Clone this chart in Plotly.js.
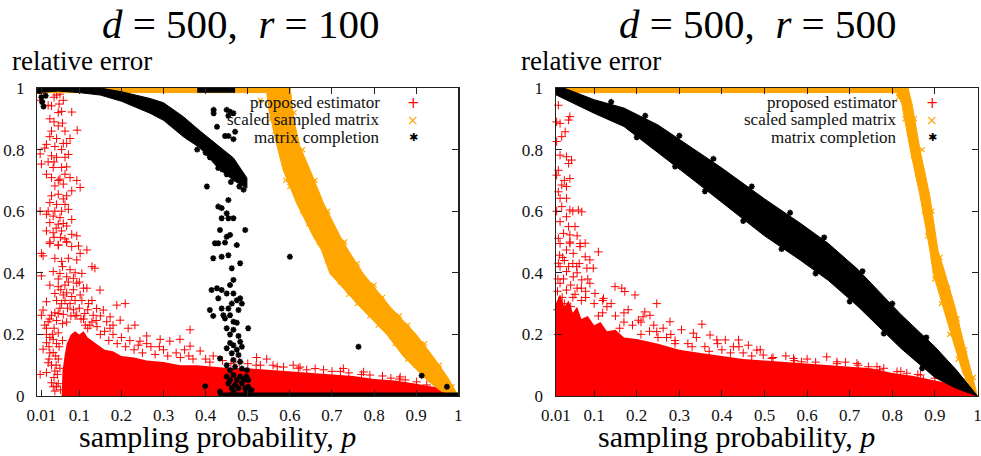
<!DOCTYPE html>
<html>
<head>
<meta charset="utf-8">
<script src="https://cdn.plot.ly/plotly-3.0.1.min.js"></script>
<style>html,body{margin:0;padding:0;background:#fff;}#chart{width:981px;height:456px;}</style>
</head>
<body>
<div id="chart"></div>
<script>
// ---------- shared axis ticks ----------
const X_TICKS = [0.01, 0.1, 0.2, 0.3, 0.4, 0.5, 0.6, 0.7, 0.8, 0.9, 1];
const X_TICK_LABELS = ['0.01', '0.1', '0.2', '0.3', '0.4', '0.5', '0.6', '0.7', '0.8', '0.9', '1'];
const Y_TICKS = [0, 0.2, 0.4, 0.6, 0.8, 1];
const Y_TICK_LABELS = ['0', '0.2', '0.4', '0.6', '0.8', '1'];
const SERIES_NAMES = ['proposed estimator', 'scaled sampled matrix', 'matrix completion'];
const PANEL_TITLES = ['<i>d</i>\u00A0=\u00A0500,\u00A0\u00A0<i>r</i>\u00A0=\u00A0100', '<i>d</i>\u00A0=\u00A0500,\u00A0\u00A0<i>r</i>\u00A0=\u00A0500'];

// ================= LEFT PANEL: d = 500, r = 100 =================
const L_pe_core_p = [0.058, 0.06, 0.065, 0.07, 0.08, 0.09, 0.10, 0.11, 0.12, 0.14, 0.16, 0.18, 0.20, 0.23, 0.26, 0.30, 0.34, 0.38, 0.42, 0.46, 0.50, 0.55, 0.60, 0.65, 0.70, 0.75, 0.80, 0.85, 0.90, 0.94, 0.97, 0.99, 1.0];
const L_pe_core_v = [0.0, 0.08, 0.13, 0.17, 0.2, 0.21, 0.2, 0.21, 0.19, 0.17, 0.15, 0.145, 0.13, 0.125, 0.115, 0.11, 0.1, 0.1, 0.095, 0.09, 0.09, 0.085, 0.08, 0.075, 0.07, 0.065, 0.055, 0.05, 0.04, 0.03, 0.02, 0.01, 0.0];
const L_pe_pts = [
 [0.01,0.983],[0.046,0.977],[0.054,0.98],[0.007,0.96],[0.026,0.944],[0.034,0.942],[0.052,0.948],[0.058,0.924],[0.082,0.922],[0.03,0.9],
 [0.04,0.89],[0.05,0.877],[0.06,0.886],[0.078,0.836],[0.095,0.863],[0.03,0.842],[0.046,0.836],[0.022,0.817],[0.018,0.805],[0.042,0.81],
 [0.062,0.82],[0.007,0.786],[0.01,0.753],[0.034,0.78],[0.046,0.775],[0.066,0.775],[0.074,0.784],[0.038,0.742],[0.058,0.742],[0.07,0.744],
 [0.022,0.72],[0.034,0.709],[0.054,0.704],[0.078,0.709],[0.094,0.7],[0.102,0.677],[0.042,0.682],[0.062,0.688],[0.034,0.65],[0.05,0.655],
 [0.07,0.65],[0.082,0.666],[0.03,0.628],[0.046,0.622],[0.066,0.622],[0.074,0.606],[0.007,0.6],[0.022,0.59],[0.038,0.584],[0.054,0.579],
 [0.082,0.573],[0.03,0.563],[0.05,0.558],[0.07,0.552],[0.022,0.536],[0.038,0.53],[0.058,0.536],[0.082,0.525],[0.094,0.52],[0.03,0.5],
 [0.05,0.49],[0.07,0.5],[0.098,0.487],
 [0.042,0.6],[0.058,0.6],[0.062,0.56],[0.045,0.545],[0.066,0.51],[0.04,0.515],[0.055,0.515],[0.026,0.6],[0.062,0.64],[0.05,0.7],
 [0.066,0.72],[0.04,0.76],[0.026,0.76],[0.058,0.8],[0.07,0.82],[0.034,0.86],[0.066,0.86],[0.05,0.92],[0.04,0.97],[0.062,0.96],
 [0.03,0.495],[0.05,0.49],[0.07,0.5],[0.082,0.485],[0.102,0.463],[0.118,0.474],[0.014,0.455],[0.01,0.463],[0.042,0.447],[0.058,0.437],
 [0.074,0.447],[0.094,0.442],[0.13,0.42],[0.137,0.415],[0.038,0.404],[0.054,0.398],[0.07,0.387],[0.086,0.382],[0.106,0.398],[0.01,0.39],
 [0.03,0.36],[0.05,0.355],[0.066,0.36],[0.094,0.366],[0.118,0.35],[0.042,0.333],[0.062,0.328],[0.082,0.323],[0.102,0.328],[0.149,0.344],
 [0.022,0.306],[0.058,0.3],[0.078,0.3],[0.122,0.3],[0.141,0.284],[0.157,0.279],[0.209,0.3],[0.189,0.295],[0.014,0.279],[0.034,0.262],
 [0.05,0.268],[0.094,0.262],[0.113,0.268],[0.133,0.262],[0.01,0.262],[0.173,0.257],[0.026,0.241],[0.165,0.241],[0.197,0.246],[0.232,0.23],
 [0.022,0.22],[0.125,0.23],[0.173,0.22],[0.216,0.22],[0.363,0.215],[0.022,0.2],[0.038,0.184],[0.26,0.195],[0.244,0.178],[0.292,0.184],
 [0.315,0.178],[0.339,0.184],[0.363,0.162],[0.022,0.173],[0.014,0.152],[0.038,0.141],[0.026,0.108],[0.042,0.081],[0.022,0.076],[0.007,0.07],
 [0.042,0.016],[0.046,0.032],[0.034,0.043],[0.387,0.146],[0.418,0.13],[0.521,0.125],[0.545,0.12],[0.56,0.1],[0.585,0.094],[0.608,0.1],
 [0.624,0.094],[0.66,0.089],[0.727,0.089],[0.775,0.078],[0.79,0.068],[0.862,0.062],[0.874,0.052],[0.901,0.046],[0.925,0.036],
 [0.06,0.42],[0.078,0.41],[0.09,0.4],[0.05,0.38],[0.074,0.37],[0.1,0.37],[0.11,0.35],[0.056,0.345],[0.086,0.345],[0.07,0.335],
 [0.046,0.31],[0.066,0.31],[0.09,0.31],[0.106,0.31],[0.13,0.31],[0.054,0.285],[0.072,0.285],[0.086,0.28],[0.1,0.285],[0.12,0.28],
 [0.042,0.27],[0.062,0.265],[0.08,0.26],[0.104,0.25],[0.14,0.245],[0.15,0.26],[0.046,0.245],[0.06,0.235],[0.114,0.23],[0.142,0.225],
 [0.16,0.21],[0.18,0.2],[0.2,0.19],[0.04,0.22],[0.05,0.205],[0.03,0.19],[0.046,0.17],[0.03,0.14],[0.05,0.12],[0.034,0.1],
 [0.04,0.06],[0.05,0.04],[0.054,0.09],[0.22,0.18],[0.24,0.165],[0.27,0.16],[0.3,0.15],[0.33,0.14],[0.36,0.13],[0.4,0.12],
 [0.44,0.115],[0.48,0.11],[0.5,0.105],[0.52,0.1],[0.64,0.085],[0.7,0.08],[0.74,0.075],[0.82,0.065],[0.84,0.058],[0.95,0.028],
 [0.12,0.22],[0.15,0.2],[0.17,0.18],[0.19,0.17],[0.21,0.16],[0.23,0.15],[0.25,0.14],[0.28,0.135],[0.31,0.13],[0.34,0.125],
 [0.37,0.12],[0.41,0.11],[0.46,0.105],[0.53,0.1],[0.57,0.095],[0.62,0.09],[0.68,0.085],[0.72,0.08],[0.77,0.07],[0.86,0.055],
 [0.11,0.25],[0.13,0.24],[0.18,0.23],[0.26,0.17],[0.29,0.16],[0.35,0.15],[0.06,0.18],[0.07,0.24],[0.09,0.26],[0.03,0.25],
 [0.036,0.2],[0.028,0.12],[0.044,0.13],[0.038,0.03],[0.048,0.07],[0.055,0.02],[0.045,0.1],[0.052,0.16],[0.028,0.16],[0.018,0.23]
];
const L_ss_hi_p = [0.0, 0.600, 0.605, 0.612, 0.624, 0.648, 0.68, 0.72, 0.74, 0.774, 0.838, 0.90, 0.94, 0.975, 1.0];
const L_ss_hi_v = [1.01, 1.01, 0.95, 0.88, 0.81, 0.734, 0.626, 0.517, 0.47, 0.398, 0.29, 0.2, 0.128, 0.06, 0.0];
const L_ss_lo_p = [0.0, 0.545, 0.55, 0.57, 0.584, 0.616, 0.656, 0.675, 0.695, 0.766, 0.83, 0.87, 0.925, 0.96, 1.0];
const L_ss_lo_v = [0.985, 0.985, 0.93, 0.81, 0.734, 0.626, 0.517, 0.474, 0.398, 0.29, 0.2, 0.128, 0.052, 0.015, 0.0];
const L_ss_pts = [
 [0.53,0.96],[0.555,0.9],[0.565,0.86],[0.59,0.7],[0.6,0.68],[0.63,0.6],[0.645,0.56],[0.67,0.5],[0.69,0.44],[0.72,0.37],
 [0.74,0.33],[0.76,0.3],[0.79,0.26],[0.81,0.23],[0.85,0.17],[0.88,0.12],[0.9,0.1],[0.93,0.06],[0.95,0.04],
 [0.61,0.92],[0.63,0.8],[0.66,0.7],[0.69,0.6],[0.73,0.5],[0.76,0.43],[0.8,0.36],[0.82,0.32],[0.86,0.26],[0.88,0.23],
 [0.92,0.17],[0.955,0.1],[0.985,0.03]
];
const L_mc_arc_p = [0.0, 0.05, 0.10, 0.15, 0.20, 0.268, 0.30, 0.347, 0.387, 0.427, 0.466, 0.498];
const L_mc_arc_hi = [1.01, 1.01, 1.005, 1.0, 0.988, 0.966, 0.952, 0.907, 0.86, 0.815, 0.773, 0.708];
const L_mc_arc_lo = [0.985, 0.99, 0.985, 0.977, 0.957, 0.918, 0.895, 0.842, 0.805, 0.744, 0.70, 0.675];
const L_mc_cap_p = [0.38, 0.47];
const L_mc_floor_p = [0.43, 1.0];
const L_mc_pts = [
 [0.419,0.929],[0.419,0.918],[0.45,0.929],[0.458,0.923],[0.454,0.91],[0.466,0.918],[0.427,0.874],[0.446,0.844],[0.454,0.844],[0.47,0.858],
 [0.466,0.834],[0.403,0.68],[0.43,0.615],[0.438,0.61],[0.454,0.636],[0.45,0.593],[0.438,0.577],[0.454,0.577],[0.466,0.577],[0.434,0.539],
 [0.494,0.539],[0.458,0.523],[0.45,0.517],[0.422,0.496],[0.43,0.496],[0.474,0.49],[0.446,0.498],[0.418,0.447],[0.438,0.452],[0.454,0.457],
 [0.462,0.415],[0.482,0.431],[0.466,0.377],[0.414,0.344],[0.427,0.35],[0.438,0.344],[0.45,0.333],[0.458,0.36],[0.466,0.333],[0.43,0.317],
 [0.474,0.311],[0.482,0.317],[0.462,0.3],[0.486,0.3],[0.41,0.279],[0.438,0.284],[0.454,0.284],[0.478,0.279],[0.418,0.26],[0.442,0.262],
 [0.446,0.252],[0.458,0.262],[0.466,0.241],[0.474,0.238],[0.501,0.22],[0.45,0.22],[0.466,0.215],[0.458,0.2],[0.478,0.195],[0.482,0.176],
 [0.458,0.172],[0.466,0.165],[0.486,0.16],[0.45,0.155],[0.474,0.15],[0.434,0.122],[0.462,0.139],[0.478,0.133],[0.466,0.117],[0.482,0.111],
 [0.45,0.1],[0.47,0.095],[0.486,0.089],[0.458,0.084],[0.498,0.084],[0.45,0.063],[0.466,0.068],[0.482,0.063],[0.497,0.063],[0.458,0.052],
 [0.474,0.052],[0.49,0.052],[0.501,0.052],[0.454,0.041],[0.47,0.036],[0.486,0.041],[0.501,0.03],[0.462,0.025],[0.478,0.025],[0.494,0.025],
 [0.509,0.019],[0.434,0.014],[0.466,0.014],[0.497,0.014],[0.399,0.032],[0.6,0.452],[0.763,0.16],[0.913,0.066],[0.973,0.03],
 [0.005,0.99],[0.01,0.97],[0.012,0.955],[0.015,0.94],[0.02,0.975],[0.36,0.84],[0.38,0.8],[0.4,0.79],[0.41,0.775],[0.43,0.74],
 [0.44,0.735],[0.45,0.72],[0.46,0.695],[0.48,0.68],[0.49,0.67]
];

// ================= RIGHT PANEL: d = 500, r = 500 =================
const R_pe_core_p = [0.01, 0.02, 0.03, 0.04, 0.05, 0.06, 0.07, 0.085, 0.10, 0.115, 0.13, 0.15, 0.17, 0.20, 0.25, 0.30, 0.35, 0.40, 0.45, 0.50, 0.55, 0.60, 0.65, 0.70, 0.75, 0.80, 0.85, 0.90, 0.94, 0.97, 0.99, 1.0];
const R_pe_core_v = [0.3, 0.33, 0.29, 0.31, 0.27, 0.29, 0.25, 0.26, 0.23, 0.24, 0.21, 0.215, 0.19, 0.185, 0.17, 0.15, 0.14, 0.13, 0.12, 0.115, 0.11, 0.105, 0.1, 0.095, 0.09, 0.075, 0.065, 0.05, 0.04, 0.025, 0.01, 0.0];
const R_pe_pts = [
 [0.016,0.944],[0.012,0.89],[0.02,0.885],[0.043,0.907],[0.04,0.896],[0.032,0.858],[0.024,0.842],[0.012,0.826],[0.02,0.782],[0.035,0.777],
 [0.047,0.766],[0.04,0.755],[0.016,0.733],[0.012,0.717],[0.043,0.706],[0.024,0.685],[0.035,0.68],[0.016,0.663],[0.02,0.642],[0.035,0.642],
 [0.024,0.615],[0.063,0.604],[0.071,0.598],[0.043,0.604],[0.035,0.582],[0.02,0.566],[0.04,0.55],[0.055,0.55],[0.028,0.528],[0.043,0.523],
 [0.016,0.512],[0.079,0.496],[0.067,0.485],[0.043,0.496],
 [0.02,0.495],[0.043,0.5],[0.035,0.474],[0.019,0.457],[0.016,0.431],[0.051,0.463],[0.067,0.495],[0.079,0.452],[0.09,0.442],[0.11,0.468],
 [0.098,0.415],[0.083,0.415],[0.059,0.42],[0.035,0.404],[0.051,0.387],[0.071,0.377],[0.02,0.366],[0.035,0.344],[0.09,0.366],[0.149,0.355],
 [0.165,0.35],[0.172,0.339],[0.196,0.328],[0.102,0.333],[0.122,0.317],[0.247,0.3],[0.219,0.273],[0.204,0.246],[0.215,0.257],[0.231,0.262],
 [0.278,0.241],[0.262,0.22],[0.247,0.209],[0.305,0.215],[0.353,0.233],[0.333,0.204],[0.372,0.198],[0.388,0.182],[0.408,0.182],[0.439,0.182],
 [0.462,0.165],[0.427,0.16],[0.482,0.149],[0.497,0.133],[0.517,0.122],[0.568,0.122],[0.587,0.111],[0.646,0.127],[0.67,0.111],[0.717,0.106],
 [0.744,0.095],[0.764,0.095],[0.811,0.079],[0.834,0.074],[0.866,0.068],[0.873,0.052],
 [0.03,0.44],[0.05,0.43],[0.06,0.4],[0.028,0.38],[0.045,0.36],[0.06,0.35],[0.08,0.34],[0.014,0.34],[0.025,0.32],[0.05,0.32],
 [0.07,0.31],[0.1,0.3],[0.13,0.29],[0.12,0.27],[0.15,0.26],[0.17,0.24],[0.19,0.23],[0.14,0.3],[0.18,0.28],[0.23,0.21],
 [0.27,0.19],[0.29,0.18],[0.32,0.17],[0.36,0.16],[0.4,0.15],[0.45,0.14],[0.55,0.13],[0.6,0.12],[0.69,0.11],[0.78,0.09],
 [0.014,0.28],[0.015,0.2],[0.012,0.6],[0.03,0.7],[0.05,0.6],[0.06,0.52],
 [0.11,0.26],[0.16,0.22],[0.21,0.2],[0.25,0.19],[0.29,0.17],[0.33,0.16],[0.37,0.145],[0.42,0.14],[0.47,0.13],[0.52,0.125],
 [0.57,0.115],[0.62,0.11],[0.67,0.105],[0.72,0.1],[0.77,0.085],[0.82,0.08],[0.86,0.07],[0.9,0.058],[0.93,0.047],[0.96,0.033],
 [0.08,0.32],[0.12,0.31],[0.17,0.27],[0.21,0.24],[0.24,0.23],[0.28,0.2],[0.34,0.19],[0.39,0.17],[0.44,0.16],[0.49,0.15],
 [0.015,0.38],[0.02,0.42],[0.026,0.45],[0.04,0.42],[0.065,0.43],[0.085,0.38],[0.07,0.35],[0.055,0.33],[0.03,0.3],[0.045,0.29]
];
const R_ss_hi_p = [0.01, 0.835, 0.846, 0.865, 0.888, 0.907, 0.924, 0.947, 0.966, 0.987, 1.0];
const R_ss_hi_v = [1.01, 1.01, 0.95, 0.8, 0.65, 0.474, 0.398, 0.29, 0.182, 0.074, 0.0];
const R_ss_lo_p = [0.01, 0.81, 0.822, 0.842, 0.865, 0.888, 0.896, 0.919, 0.942, 0.966, 0.99, 1.0];
const R_ss_lo_v = [0.985, 0.985, 0.95, 0.8, 0.65, 0.474, 0.398, 0.29, 0.182, 0.074, 0.01, 0.0];
const R_ss_pts = [
 [0.815,0.97],[0.83,0.9],[0.85,0.78],[0.86,0.72],[0.875,0.6],[0.883,0.52],[0.9,0.38],[0.915,0.3],[0.935,0.2],[0.955,0.12],
 [0.975,0.05],[0.852,0.9],[0.87,0.8],[0.893,0.6],[0.912,0.45],[0.93,0.35],[0.952,0.25],[0.97,0.15],[0.99,0.06]
];
const R_mc_band_p = [0.01, 0.1, 0.17, 0.25, 0.325, 0.4, 0.5, 0.585, 0.65, 0.72, 0.82, 0.9, 0.95, 1.0];
const R_mc_band_hi = [1.01, 0.962, 0.935, 0.88, 0.81, 0.74, 0.64, 0.56, 0.495, 0.41, 0.265, 0.16, 0.085, 0.003];
const R_mc_band_lo = [0.978, 0.918, 0.875, 0.79, 0.71, 0.63, 0.52, 0.44, 0.375, 0.29, 0.155, 0.06, 0.025, 0.0];
const R_mc_pts = [
 [0.14,0.955],[0.22,0.91],[0.3,0.845],[0.38,0.77],[0.47,0.68],[0.56,0.595],[0.64,0.515],[0.73,0.405],[0.8,0.3],[0.88,0.19],
 [0.2,0.84],[0.29,0.745],[0.36,0.665],[0.45,0.568],[0.54,0.477],[0.62,0.398],[0.7,0.307],[0.78,0.203],[0.87,0.09]
];

// ---------- styling ----------
const RED = '#ff0000', ORANGE = '#ffa500', BLACK = '#000000';
const SERIF = '"Liberation Serif", serif';

function poly(hp, hv, lp, lv) {
  return { x: hp.concat(lp.slice().reverse()), y: hv.concat(lv.slice().reverse()) };
}
function bandPoly(p, hi, lo) {
  return { x: p.concat(p.slice().reverse()), y: hi.concat(lo.slice().reverse()) };
}

function panelTraces(ax, ay, d) {
  const t = [];
  t.push({ x: d.coreP, y: d.coreV, xaxis: ax, yaxis: ay, type: 'scatter', mode: 'lines', fill: 'tozeroy', fillcolor: RED, line: { width: 0, color: RED }, hoverinfo: 'skip' });
  t.push({ x: d.pe.map(q => q[0]), y: d.pe.map(q => q[1]), xaxis: ax, yaxis: ay, type: 'scatter', mode: 'markers', cliponaxis: false,
    marker: { symbol: 'cross-thin-open', size: 6, line: { width: 1, color: RED }, color: RED } });
  const sp = poly(d.ssHiP, d.ssHiV, d.ssLoP, d.ssLoV);
  t.push({ x: sp.x, y: sp.y, xaxis: ax, yaxis: ay, type: 'scatter', mode: 'lines', fill: 'toself', fillcolor: ORANGE, line: { width: 1, color: ORANGE }, hoverinfo: 'skip' });
  t.push({ x: d.ss.map(q => q[0]), y: d.ss.map(q => q[1]), xaxis: ax, yaxis: ay, type: 'scatter', mode: 'markers', cliponaxis: false,
    marker: { symbol: 'x-thin-open', size: 5, line: { width: 1.2, color: ORANGE }, color: ORANGE } });
  const bp = bandPoly(d.mcP, d.mcHi, d.mcLo);
  t.push({ x: bp.x, y: bp.y, xaxis: ax, yaxis: ay, type: 'scatter', mode: 'lines', fill: 'toself', fillcolor: BLACK, line: { width: 1, color: BLACK }, hoverinfo: 'skip' });
  if (d.capP) t.push({ x: d.capP, y: d.capP.map(() => 0.993), xaxis: ax, yaxis: ay, type: 'scatter', mode: 'lines', line: { width: 5, color: BLACK } });
  if (d.floorP) t.push({ x: d.floorP, y: d.floorP.map(() => 0.005), xaxis: ax, yaxis: ay, type: 'scatter', mode: 'lines', line: { width: 4, color: BLACK } });
  t.push({ x: d.mc.map(q => q[0]), y: d.mc.map(q => q[1]), xaxis: ax, yaxis: ay, type: 'scatter', mode: 'markers', cliponaxis: false,
    marker: { symbol: 'asterisk-open', size: 5, line: { width: 1.6, color: BLACK }, color: BLACK } });
  return t;
}

const traces = [].concat(
  panelTraces('x', 'y', { coreP: L_pe_core_p, coreV: L_pe_core_v, pe: L_pe_pts, ssHiP: L_ss_hi_p, ssHiV: L_ss_hi_v, ssLoP: L_ss_lo_p, ssLoV: L_ss_lo_v, ss: L_ss_pts,
    mcP: L_mc_arc_p, mcHi: L_mc_arc_hi, mcLo: L_mc_arc_lo, capP: L_mc_cap_p, floorP: L_mc_floor_p, mc: L_mc_pts }),
  panelTraces('x2', 'y2', { coreP: R_pe_core_p, coreV: R_pe_core_v, pe: R_pe_pts, ssHiP: R_ss_hi_p, ssHiV: R_ss_hi_v, ssLoP: R_ss_lo_p, ssLoV: R_ss_lo_v, ss: R_ss_pts,
    mcP: R_mc_band_p, mcHi: R_mc_band_hi, mcLo: R_mc_band_lo, mc: R_mc_pts })
);

const W = 981, H = 456;
const px = v => v / W, py = v => 1 - v / H;
const axisBase = {
  showline: true, linecolor: '#222', linewidth: 1.3, mirror: 'ticks', ticks: 'inside', ticklen: 6, tickwidth: 1, tickcolor: '#222',
  showgrid: false, zeroline: false, fixedrange: true, ticklabeloverflow: 'allow', tickfont: { family: SERIF, size: 17, color: '#111' }
};
const yDomain = [py(396), py(88)];

const annotations = [];
function addPanelText(titleX, relX, xtitleX, legTextX, legMarkX, title) {
  annotations.push({ xref: 'paper', yref: 'paper', x: px(titleX), y: 1, xanchor: 'center', yanchor: 'top', showarrow: false, borderpad: 0,
    text: title, font: { family: SERIF, size: 41, color: '#000' } });
  annotations.push({ xref: 'paper', yref: 'paper', x: px(relX), y: py(61), xanchor: 'left', yanchor: 'middle', showarrow: false,
    text: 'relative error', font: { family: SERIF, size: 27, color: '#000' } });
  annotations.push({ xref: 'paper', yref: 'paper', x: px(xtitleX), y: py(436), xanchor: 'center', yanchor: 'middle', showarrow: false, borderpad: 0,
    text: 'sampling probability, <i>p</i>', font: { family: SERIF, size: 30, color: '#000' } });
  const rows = [103, 120, 138];
  const glyphs = [['+', RED, 15], ['×', ORANGE, 14], ['✱', BLACK, 11]];
  SERIES_NAMES.forEach((name, i) => {
    annotations.push({ xref: 'paper', yref: 'paper', x: px(legTextX), y: py(rows[i]), xanchor: 'right', yanchor: 'middle', showarrow: false, borderpad: 0,
      text: name, font: { family: SERIF, size: 17, color: '#111' } });
    annotations.push({ xref: 'paper', yref: 'paper', x: px(legMarkX), y: py(rows[i]), xanchor: 'center', yanchor: 'middle', showarrow: false, borderpad: 0,
      text: glyphs[i][0], font: { family: 'DejaVu Sans', size: glyphs[i][2], color: glyphs[i][1] } });
  });
}
addPanelText(240, 10, 217, 381, 413, PANEL_TITLES[0]);
addPanelText(757, 519, 736, 898, 932, PANEL_TITLES[1]);

const layout = {
  width: W, height: H, margin: { l: 0, r: 0, t: 0, b: 0 }, paper_bgcolor: '#fff', plot_bgcolor: '#fff', showlegend: false,
  xaxis: Object.assign({}, axisBase, { domain: [px(37.2), px(458.3)], range: [0, 1], tickvals: X_TICKS, ticktext: X_TICK_LABELS, anchor: 'y', ticklabelstandoff: 3 }),
  yaxis: Object.assign({}, axisBase, { domain: yDomain, range: [0, 1], tickvals: Y_TICKS, ticktext: Y_TICK_LABELS, anchor: 'x', ticklabelstandoff: 8 }),
  xaxis2: Object.assign({}, axisBase, { domain: [px(555.8), px(977.5)], range: [0.01, 1], tickvals: X_TICKS, ticktext: X_TICK_LABELS, anchor: 'y2', ticklabelstandoff: 3 }),
  yaxis2: Object.assign({}, axisBase, { domain: yDomain, range: [0, 1], tickvals: Y_TICKS, ticktext: Y_TICK_LABELS, anchor: 'x2', ticklabelstandoff: 8 }),
  annotations: annotations
};

Plotly.newPlot('chart', traces, layout, { staticPlot: true, displayModeBar: false });
</script>
</body>
</html>
